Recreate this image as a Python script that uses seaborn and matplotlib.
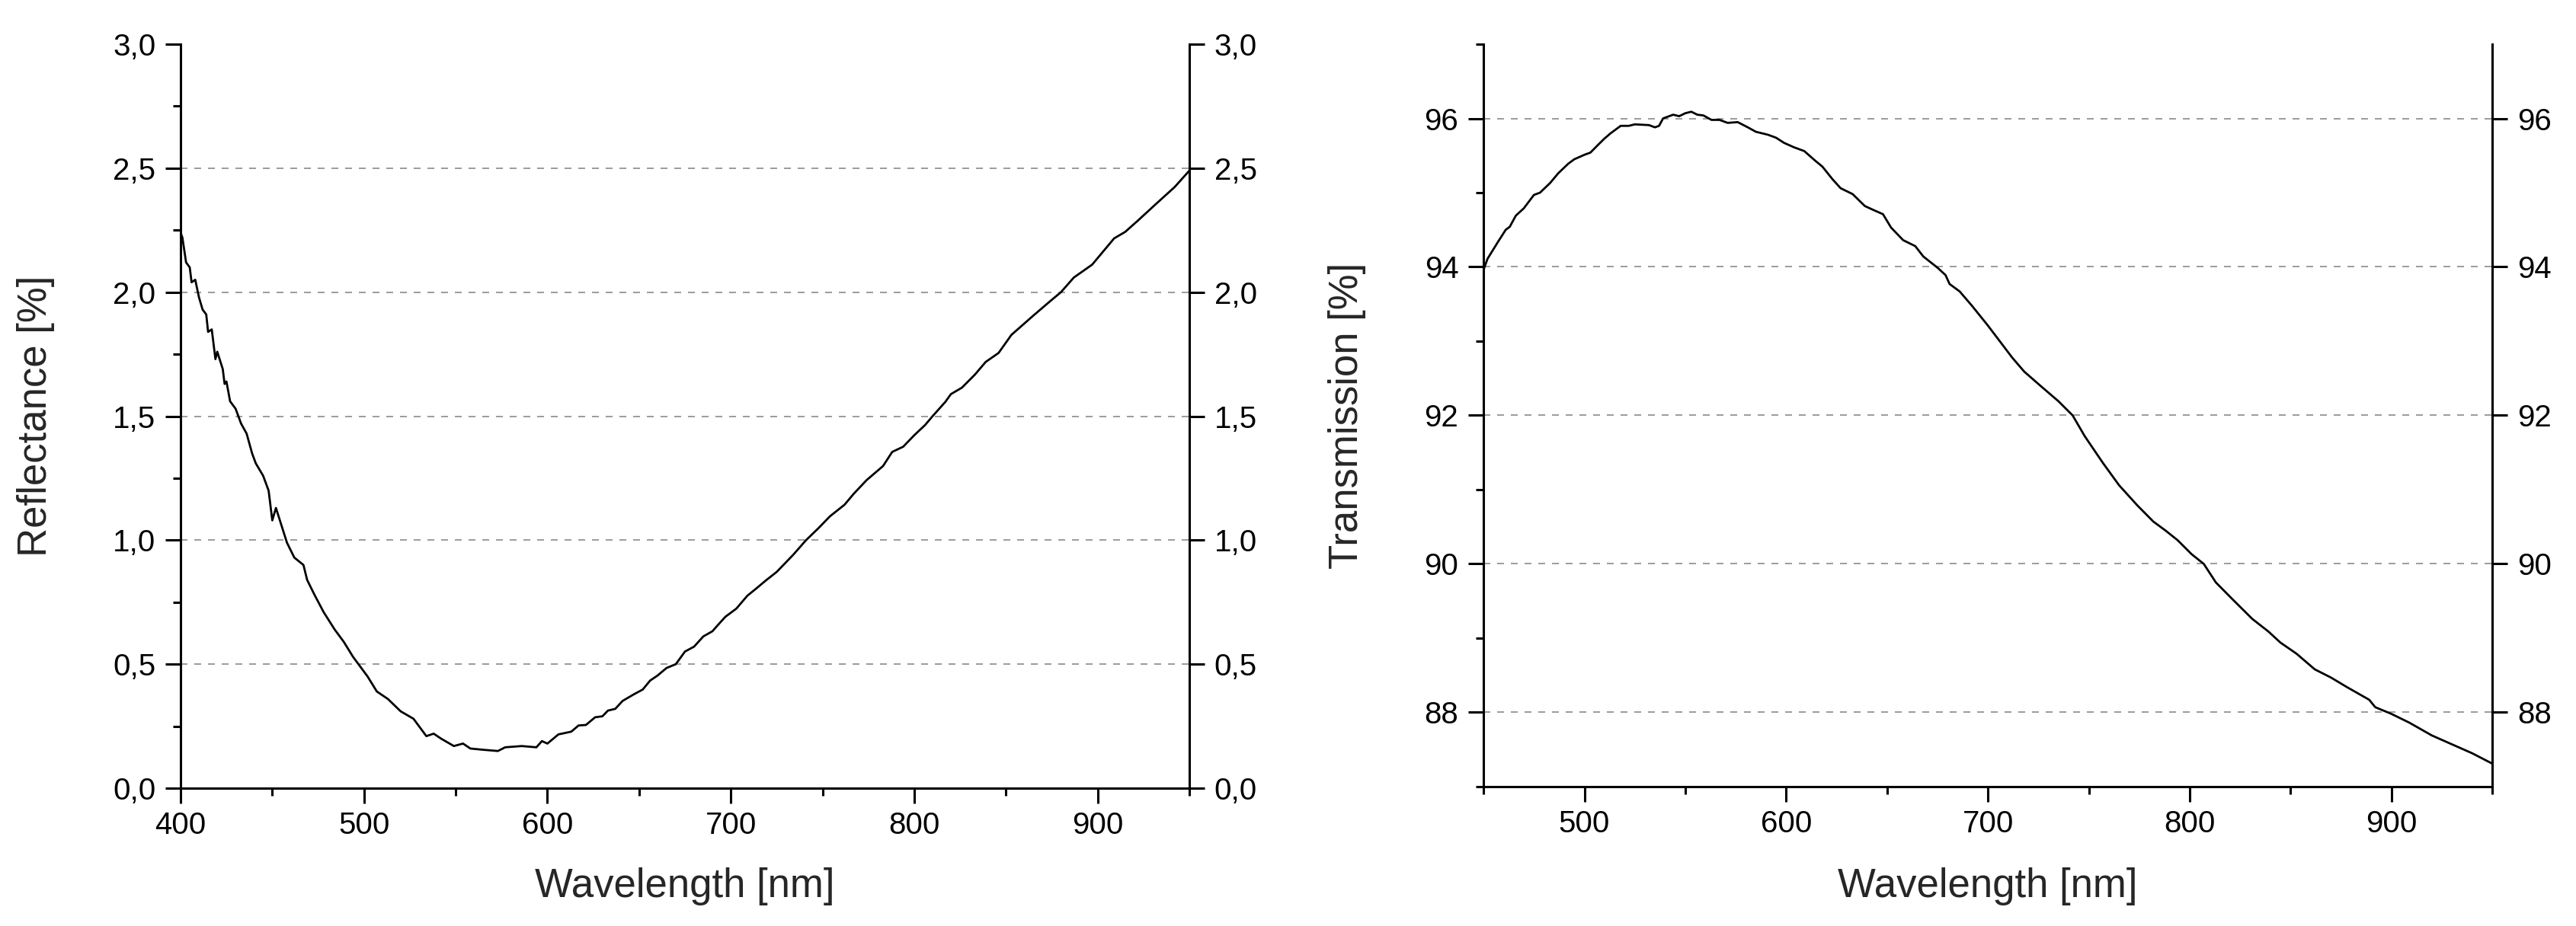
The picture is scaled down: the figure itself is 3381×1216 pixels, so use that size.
import matplotlib
matplotlib.use("Agg")
import numpy as np
import pandas as pd
import matplotlib.pyplot as plt
import seaborn as sns
from matplotlib.ticker import MultipleLocator, FuncFormatter

# Reflectance curve (left panel)
refl_wl = [400, 401, 403, 405, 406, 408, 410, 412, 414, 415,
           417, 419, 420, 423, 424, 425, 427, 430, 433, 436,
           439, 441, 445, 448, 450, 452, 455, 458, 462, 467,
           469, 473, 478, 484, 489, 494, 497, 502, 507, 513,
           520, 527, 530, 534, 538, 542, 549, 554, 558, 565,
           573, 577, 586, 594, 597, 600, 606, 613, 617, 621,
           626, 630, 633, 637, 641, 647, 652, 656, 660, 665,
           670, 675, 680, 685, 690, 692, 697, 703, 709, 714,
           719, 725, 734, 741, 748, 754, 762, 767, 774, 783,
           788, 794, 800, 806, 810, 817, 820, 826, 833, 839,
           846, 853, 865, 874, 880, 887, 897, 909, 915, 922,
           932, 942, 950]
refl = [2.24, 2.22, 2.12, 2.10, 2.04, 2.05, 1.98, 1.93, 1.91, 1.84,
        1.85, 1.73, 1.76, 1.69, 1.63, 1.64, 1.56, 1.53, 1.47, 1.43,
        1.35, 1.31, 1.26, 1.20, 1.08, 1.13, 1.06, 0.99, 0.93, 0.90,
        0.84, 0.78, 0.71, 0.64, 0.59, 0.53, 0.50, 0.45, 0.39, 0.36,
        0.31, 0.28, 0.25, 0.21, 0.22, 0.20, 0.17, 0.18, 0.16, 0.155,
        0.15, 0.165, 0.17, 0.165, 0.19, 0.18, 0.217, 0.228, 0.253, 0.255,
        0.286, 0.29, 0.313, 0.32, 0.352, 0.378, 0.398, 0.434, 0.454, 0.485,
        0.50, 0.551, 0.571, 0.612, 0.633, 0.65, 0.691, 0.724, 0.776, 0.806,
        0.837, 0.872, 0.941, 1.0, 1.05, 1.096, 1.143, 1.187, 1.242, 1.299,
        1.356, 1.377, 1.423, 1.465, 1.5, 1.558, 1.589, 1.615, 1.667, 1.719,
        1.755, 1.828, 1.906, 1.963, 2.0, 2.059, 2.111, 2.217, 2.243, 2.289,
        2.357, 2.424, 2.49]

# Transmission curve (right panel)
trans_wl = [450, 452, 457, 461, 463, 466, 470, 475, 478, 483,
            487, 492, 495, 500, 503, 507, 510, 513, 518, 522,
            525, 532, 535, 537, 539, 544, 547, 550, 553, 556,
            559, 563, 567, 571, 576, 581, 585, 591, 595, 599,
            604, 609, 614, 618, 623, 627, 633, 639, 643, 648,
            652, 658, 664, 668, 675, 679, 681, 686, 692, 700,
            712, 718, 726, 735, 742, 748, 757, 765, 774, 782,
            788, 794, 801, 807, 813, 821, 831, 839, 845, 853,
            862, 870, 878, 889, 892, 900, 909, 920, 930, 940,
            950]
trans = [93.96, 94.11, 94.33, 94.50, 94.54, 94.69, 94.79, 94.97, 95.00, 95.13,
         95.26, 95.39, 95.45, 95.51, 95.54, 95.65, 95.73, 95.80, 95.90, 95.90,
         95.92, 95.91, 95.88, 95.90, 96.00, 96.05, 96.03, 96.07, 96.09, 96.05,
         96.04, 95.98, 95.98, 95.94, 95.95, 95.88, 95.82, 95.78, 95.74, 95.67,
         95.61, 95.56, 95.44, 95.35, 95.18, 95.06, 94.98, 94.82, 94.77, 94.71,
         94.53, 94.36, 94.28, 94.14, 93.99, 93.89, 93.77, 93.67, 93.48, 93.21,
         92.78, 92.59, 92.40, 92.19, 92.00, 91.72, 91.36, 91.06, 90.79, 90.57,
         90.45, 90.32, 90.13, 90.00, 89.75, 89.53, 89.26, 89.09, 88.94, 88.79,
         88.58, 88.47, 88.34, 88.17, 88.07, 87.98, 87.86, 87.69, 87.57, 87.45,
         87.31]

sns.set_theme(style="ticks")
plt.rcParams["font.family"] = ["Liberation Sans", "DejaVu Sans"]

df_r = pd.DataFrame({"wl": refl_wl, "val": refl})
df_t = pd.DataFrame({"wl": trans_wl, "val": trans})

fig = plt.figure(figsize=(3381 / 200, 1216 / 200), dpi=200)
ax1 = fig.add_axes([0.0701, 0.1488, 0.3916, 0.8035])
ax2 = fig.add_axes([0.5759, 0.1505, 0.3916, 0.8018])


def style_axis(ax, ylims):
    ax.spines["top"].set_visible(False)
    for s in ["left", "right", "bottom"]:
        ax.spines[s].set_visible(True)
        ax.spines[s].set_linewidth(1.1)
        ax.spines[s].set_color("black")
    ax.tick_params(which="major", direction="out", length=7.3, width=1.1,
                   color="black", labelsize=14.5, labelcolor="black")
    ax.tick_params(which="minor", direction="out", length=3.6, width=1.1,
                   color="black")
    ax.tick_params(axis="x", which="both", top=False, bottom=True, pad=3.5)
    ax.tick_params(axis="y", which="major", left=True, right=True,
                   labelleft=True, labelright=True, pad=4.5)
    ax.tick_params(axis="y", which="minor", left=True, right=False)
    ax.yaxis.grid(True, which="major", color="#8a8a8a",
                  linestyle=(0, (5.4, 5.4)), linewidth=0.6)
    ax.xaxis.grid(False)
    # no dashed line on the axis limits
    for loc, tk in zip(ax.yaxis.get_majorticklocs(), ax.yaxis.get_major_ticks()):
        if np.isclose(loc, ylims[0]) or np.isclose(loc, ylims[1]):
            tk.gridline.set_visible(False)


# Left: reflectance
sns.lineplot(data=df_r, x="wl", y="val", ax=ax1, color="black", linewidth=1.0)
ax1.set_xlim(400, 950)
ax1.set_ylim(0, 3)
ax1.xaxis.set_major_locator(MultipleLocator(100))
ax1.xaxis.set_minor_locator(MultipleLocator(50))
ax1.yaxis.set_major_locator(MultipleLocator(0.5))
ax1.yaxis.set_minor_locator(MultipleLocator(0.25))
ax1.yaxis.set_major_formatter(FuncFormatter(lambda v, p: f"{v:.1f}".replace(".", ",")))
style_axis(ax1, (0, 3))
ax1.set_xlabel("Wavelength [nm]", fontsize=19)
ax1.set_ylabel("Reflectance [%]", fontsize=19)
ax1.xaxis.set_label_coords(0.5, -0.132)
ax1.xaxis.label.set_va("center")
ax1.yaxis.set_label_coords(-0.1435, 0.5)
ax1.yaxis.label.set_va("center")

# Right: transmission
sns.lineplot(data=df_t, x="wl", y="val", ax=ax2, color="black", linewidth=1.0)
ax2.set_xlim(450, 950)
ax2.set_ylim(87, 97)
ax2.xaxis.set_major_locator(MultipleLocator(100))
ax2.xaxis.set_minor_locator(MultipleLocator(50))
ax2.yaxis.set_major_locator(MultipleLocator(2))
ax2.yaxis.set_minor_locator(MultipleLocator(1))
ax2.yaxis.set_major_formatter(FuncFormatter(lambda v, p: f"{v:.0f}"))
style_axis(ax2, (87, 97))
ax2.set_xlabel("Wavelength [nm]", fontsize=19)
ax2.set_ylabel("Transmission [%]", fontsize=19)
ax2.xaxis.set_label_coords(0.5, -0.134)
ax2.xaxis.label.set_va("center")
ax2.yaxis.set_label_coords(-0.135, 0.5)
ax2.yaxis.label.set_va("center")

fig.savefig("out.png", dpi=200)
